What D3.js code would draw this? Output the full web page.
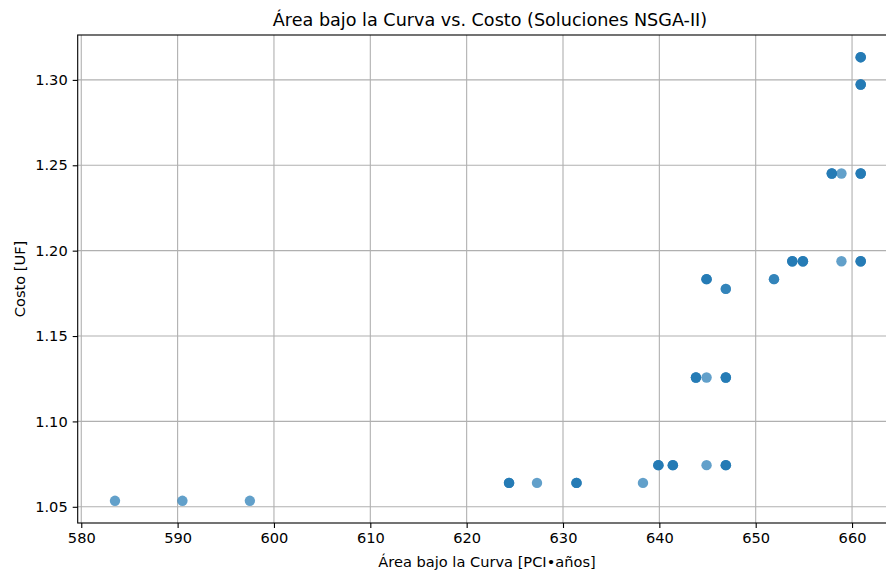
<!DOCTYPE html>
<html>
<head>
<meta charset="utf-8">
<script src="https://cdn.jsdelivr.net/npm/d3@7"></script>
<style>
  body { margin: 0; background: #fff; }
  svg { display: block; font-family: "DejaVu Sans", sans-serif; }
</style>
</head>
<body>
<svg id="chart" width="886" height="571"></svg>
<script>
// NSGA-II solutions (repeated entries = overlapping solutions)
const area = [
  583.5, 590.5, 597.5,
  624.4, 624.4, 624.4, 627.3, 631.4, 631.4, 631.4, 638.3,
  639.9, 639.9, 639.9, 641.4, 641.4, 641.4, 644.9, 646.9, 646.9, 646.9,
  643.8, 643.8, 643.8, 644.9, 646.9, 646.9, 646.9,
  646.9, 646.9,
  644.9, 644.9, 644.9, 651.9, 651.9,
  653.8, 653.8, 653.8, 654.9, 654.9, 654.9, 658.9, 660.9, 660.9, 660.9,
  657.9, 657.9, 657.9, 658.9, 660.9, 660.9, 660.9,
  660.9, 660.9, 660.9,
  660.9, 660.9, 660.9
];
const cost = [
  1.0535, 1.0535, 1.0535,
  1.064, 1.064, 1.064, 1.064, 1.064, 1.064, 1.064, 1.064,
  1.0744, 1.0744, 1.0744, 1.0744, 1.0744, 1.0744, 1.0744, 1.0744, 1.0744, 1.0744,
  1.1257, 1.1257, 1.1257, 1.1257, 1.1257, 1.1257, 1.1257,
  1.1776, 1.1776,
  1.1833, 1.1833, 1.1833, 1.1833, 1.1833,
  1.1938, 1.1938, 1.1938, 1.1938, 1.1938, 1.1938, 1.1938, 1.1938, 1.1938, 1.1938,
  1.2452, 1.2452, 1.2452, 1.2452, 1.2452, 1.2452, 1.2452,
  1.2973, 1.2973, 1.2973,
  1.3133, 1.3133, 1.3133
];
const xTicks = [580, 590, 600, 610, 620, 630, 640, 650, 660];
const yTicks = [1.05, 1.10, 1.15, 1.20, 1.25, 1.30];

const points = area.map((a, i) => ({ a: a, c: cost[i] }));

const svg = d3.select("#chart");
const M = { LEFT: 77.7, RIGHT: 898, TOP: 35, BOTTOM: 523 };
const FS = 14.6;

// matplotlib-style 5% margins
const xExt = d3.extent(area), yExt = d3.extent(cost);
const xPad = (xExt[1] - xExt[0]) * 0.05, yPad = (yExt[1] - yExt[0]) * 0.05;

const x = d3.scaleLinear()
  .domain([xExt[0] - xPad, xExt[1] + xPad])
  .range([M.LEFT, M.RIGHT]);
const y = d3.scaleLinear()
  .domain([yExt[0] - yPad, yExt[1] + yPad])
  .range([M.BOTTOM, M.TOP]);

// grid
svg.append("g")
  .selectAll("line")
  .data(xTicks)
  .join("line")
  .attr("x1", d => x(d)).attr("x2", d => x(d))
  .attr("y1", M.TOP).attr("y2", M.BOTTOM)
  .attr("stroke", "#b0b0b0").attr("stroke-width", 1.1);
svg.append("g")
  .selectAll("line")
  .data(yTicks)
  .join("line")
  .attr("x1", M.LEFT).attr("x2", M.RIGHT)
  .attr("y1", d => y(d)).attr("y2", d => y(d))
  .attr("stroke", "#b0b0b0").attr("stroke-width", 1.1);

// points
svg.append("g")
  .selectAll("circle")
  .data(points)
  .join("circle")
  .attr("cx", d => x(d.a))
  .attr("cy", d => y(d.c))
  .attr("r", 5.2)
  .attr("fill", "#1f77b4")
  .attr("fill-opacity", 0.7);

// spines
svg.append("rect")
  .attr("x", M.LEFT).attr("y", M.TOP)
  .attr("width", M.RIGHT - M.LEFT).attr("height", M.BOTTOM - M.TOP)
  .attr("fill", "none").attr("stroke", "#000").attr("stroke-width", 1.1);

// axes
const xAxis = svg.append("g")
  .attr("transform", `translate(0,${M.BOTTOM})`)
  .call(d3.axisBottom(x).tickValues(xTicks).tickSize(5).tickPadding(5).tickFormat(d3.format("d")));
const yAxis = svg.append("g")
  .attr("transform", `translate(${M.LEFT},0)`)
  .call(d3.axisLeft(y).tickValues(yTicks).tickSize(5).tickPadding(5).tickFormat(d3.format(".2f")));
[xAxis, yAxis].forEach(g => {
  g.select(".domain").remove();
  g.selectAll("line").attr("stroke", "#000").attr("stroke-width", 1.1);
  g.selectAll("text").attr("font-size", FS).attr("fill", "#000")
    .attr("font-family", "DejaVu Sans, sans-serif");
});

// title and labels
svg.append("text")
  .attr("x", 490).attr("y", 26)
  .attr("text-anchor", "middle").attr("font-size", 17.6)
  .text("Área bajo la Curva vs. Costo (Soluciones NSGA-II)");
svg.append("text")
  .attr("x", 487).attr("y", 567)
  .attr("text-anchor", "middle").attr("font-size", FS)
  .text("Área bajo la Curva [PCI•años]");
svg.append("text")
  .attr("transform", `translate(25,${(M.TOP + M.BOTTOM) / 2}) rotate(-90)`)
  .attr("text-anchor", "middle").attr("font-size", FS)
  .text("Costo [UF]");
</script>
</body>
</html>
